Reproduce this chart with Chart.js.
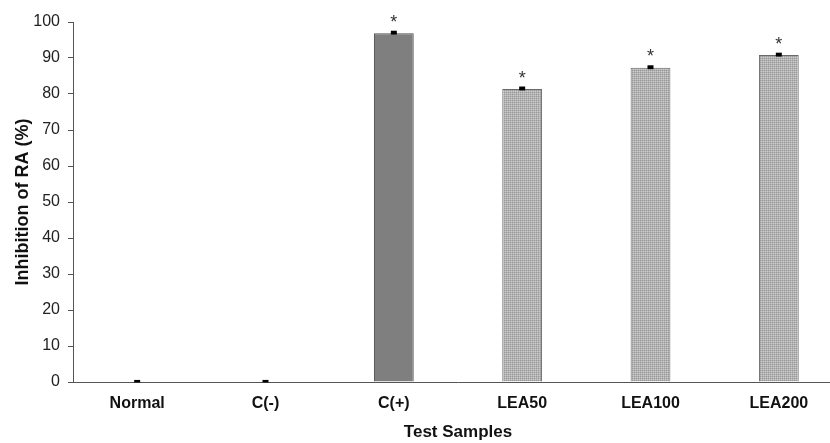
<!DOCTYPE html>
<html>
<head>
<meta charset="utf-8">
<script src="https://cdn.jsdelivr.net/npm/chart.js@4/dist/chart.umd.min.js"></script>
<style>
  html, body { margin: 0; padding: 0; background: #fff; overflow: hidden; }
  #wrap { width: 845px; height: 443px; }
</style>
</head>
<body>
<div id="wrap"><canvas id="chart" width="845" height="443"></canvas></div>
<script>
  "use strict";

  const categories = ["Normal", "C(-)", "C(+)", "LEA50", "LEA100", "LEA200"];
  const inhibition = [0, 0, 96.9, 81.4, 87.3, 90.8];
  const errors = [0.3, 0.3, 0.4, 0.4, 0.4, 0.4];
  const significant = [false, false, true, true, true, true];

  // dotted fill like the original spreadsheet pattern
  function dotPattern() {
    const c = document.createElement("canvas");
    c.width = 2;
    c.height = 2;
    const g = c.getContext("2d");
    g.fillStyle = "#b4b4b4";
    g.fillRect(0, 0, 2, 2);
    g.fillStyle = "#989898";
    g.fillRect(0, 0, 1, 1);
    g.fillStyle = "#cacaca";
    g.fillRect(1, 1, 1, 1);
    return document.getElementById("chart").getContext("2d").createPattern(c, "repeat");
  }

  const dots = dotPattern();
  const fills = categories.map((c) => (c === "C(+)" ? "#7f7f7f" : dots));
  const borders = categories.map((c) => (c === "C(+)" ? "#505050" : "#6a6a6a"));

  const errorBars = {
    id: "errorBars",
    afterDatasetsDraw(chart) {
      const ctx = chart.ctx;
      const y = chart.scales.y;
      const meta = chart.getDatasetMeta(0);
      ctx.save();
      meta.data.forEach((bar, i) => {
        const v = inhibition[i];
        const e = errors[i];
        const top = y.getPixelForValue(v + e);
        const bot = Math.min(y.getPixelForValue(Math.max(v - e, 0)), y.bottom - 0.5);
        ctx.fillStyle = "#000";
        ctx.fillRect(bar.x - 3, top - 1, 6, Math.max(bot - top + 1, 2.5));
        if (significant[i]) {
          ctx.fillStyle = "#333";
          ctx.font = "18px 'Liberation Sans', Arial, sans-serif";
          ctx.textAlign = "center";
          ctx.textBaseline = "alphabetic";
          ctx.fillText("*", bar.x, top - 4);
        }
      });
      ctx.restore();
    },
  };

  new Chart(document.getElementById("chart"), {
    type: "bar",
    data: {
      labels: categories,
      datasets: [
        {
          label: "Inhibition of RA (%)",
          data: inhibition,
          backgroundColor: fills,
          borderColor: borders,
          borderWidth: 1,
          barPercentage: 0.31,
          categoryPercentage: 1,
        },
      ],
    },
    options: {
      responsive: false,
      animation: false,
      layout: { padding: { top: 22, right: 2, left: 0, bottom: 0 } },
      plugins: {
        legend: { display: false },
        tooltip: { enabled: false },
      },
      scales: {
        x: {
          grid: { display: false },
          border: { display: true, color: "#555", width: 1 },
          ticks: {
            color: "#111",
            padding: 4,
            font: { family: "'Liberation Sans', Arial", size: 16, weight: "bold" },
          },
          title: {
            display: true,
            text: "Test Samples",
            color: "#111",
            padding: { top: 0, bottom: 0 },
            font: { family: "'Liberation Sans', Arial", size: 17, weight: "bold" },
          },
          afterFit(scale) {
            scale.height = 61;
          },
        },
        y: {
          min: 0,
          max: 100,
          ticks: {
            stepSize: 10,
            color: "#222",
            padding: 8,
            font: { family: "'Liberation Sans', Arial", size: 16 },
          },
          grid: {
            drawOnChartArea: false,
            drawTicks: true,
            tickLength: 5,
            color: "#555",
          },
          border: { display: true, color: "#555", width: 1 },
          title: {
            display: true,
            text: "Inhibition of RA (%)",
            color: "#111",
            padding: { top: 12, bottom: 0 },
            font: { family: "'Liberation Sans', Arial", size: 18, weight: "bold" },
          },
          afterFit(scale) {
            scale.width = 73;
          },
        },
      },
    },
    plugins: [errorBars],
  });
</script>
</body>
</html>
